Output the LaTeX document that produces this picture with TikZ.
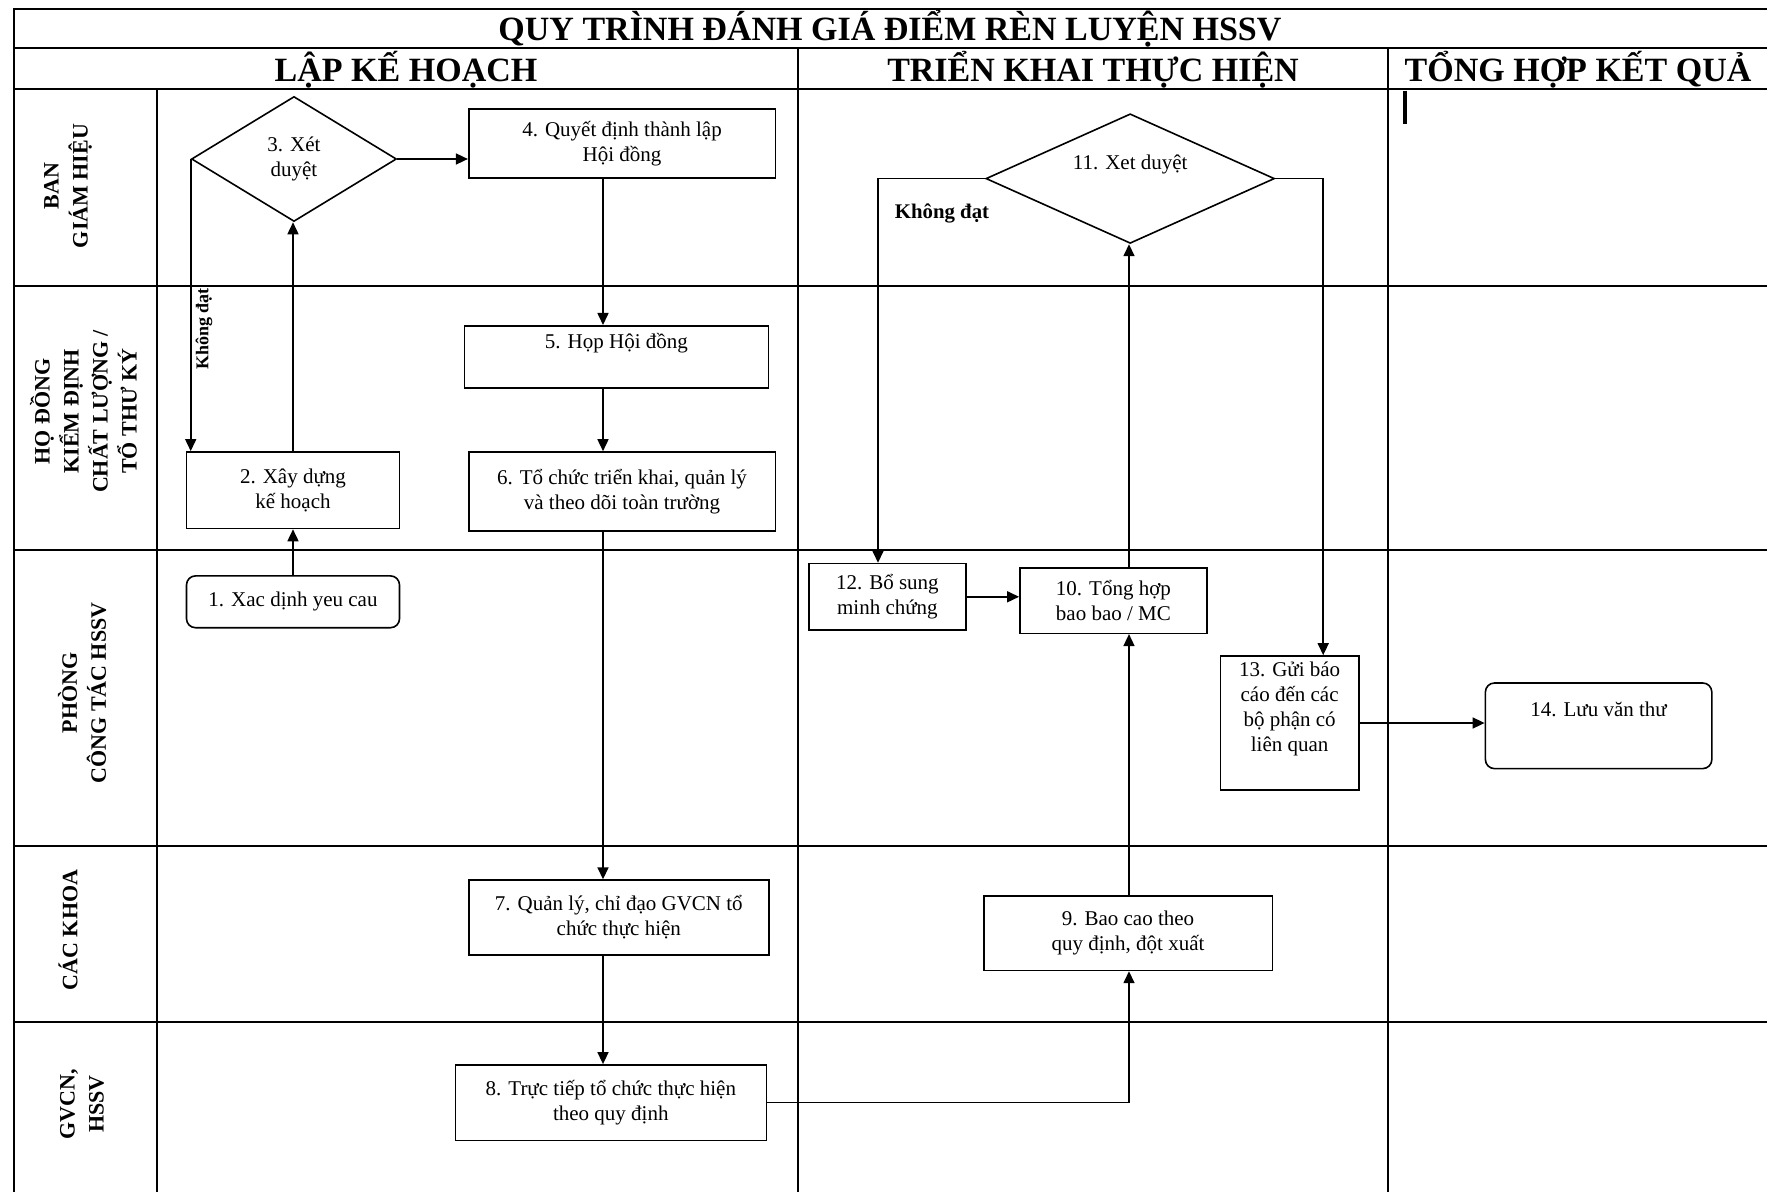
\documentclass[tikz,border=0pt]{standalone}
\usepackage{fontspec}
\setmainfont{Liberation Serif}
\usetikzlibrary{shapes.geometric,arrows.meta}

\tikzset{
  grid/.style={line width=1pt},
  box/.style={draw, line width=0.8pt, align=center, inner sep=1pt, font=\fontsize{10.5}{12.4}\selectfont},
  rbox/.style={box, rounded corners=4.5pt},
  dec/.style={box, diamond, inner sep=0pt},
  lane/.style={rotate=90, align=center, font=\bfseries\fontsize{11}{14.5}\selectfont},
  phase/.style={font=\bfseries\fontsize{17}{20}\selectfont},
  arr/.style={line width=0.8pt, -{Triangle[length=6pt,width=5.5pt]}},
}

\begin{document}
\begin{tikzpicture}[x=1pt, y=-1pt]
    \useasboundingbox (0,0) rectangle (883.5,596);
    \draw[grid] (6.75,596) -- (6.75,4.5) -- (883.5,4.5);
    \draw[grid] (6.75,24.25) -- (883.5,24.25);
    \draw[grid] (6.75,44.5) -- (883.5,44.5);
    \draw[grid] (6.75,143) -- (883.5,143);
    \draw[grid] (6.75,275) -- (883.5,275);
    \draw[grid] (6.75,423) -- (883.5,423);
    \draw[grid] (6.75,511) -- (883.5,511);
    \draw[grid] (78.3,44.5) -- (78.3,596);
    \draw[grid] (399,24.25) -- (399,596);
    \draw[grid] (694,24.25) -- (694,596);
    \draw[line width=1.8pt] (702.5,45.5) -- (702.5,62);

    \node[phase] (title) at (445,14.6) {QUY TRÌNH ĐÁNH GIÁ ĐIỂM RÈN LUYỆN HSSV};
    \node[phase] (ph1) at (203,35) {LẬP KẾ HOẠCH};
    \node[phase] (ph2) at (546.5,35) {TRIỂN KHAI THỰC HIỆN};
    \node[phase] (ph3) at (789,35) {TỔNG HỢP KẾT QUẢ};

    \node[lane] (l1) at (34,93) {BAN\\GIÁM HIỆU};
    \node[lane] (l2) at (41.7,205.7) {HỌ ĐỒNG\\KIỂM ĐỊNH\\CHẤT LƯỢNG /\\TỔ THƯ KÝ};
    \node[lane] (l3) at (41,346.5) {PHÒNG\\CÔNG TÁC HSSV};
    \node[lane] (l4) at (34,465) {CÁC KHOA};
    \node[lane] (l5) at (41,552) {GVCN,\\HSSV};

    \node[rbox, minimum width=106.5pt, minimum height=25.9pt] (b1) at (146.5,300.9) {1. Xac dịnh yeu cau};
    \node[box, minimum width=106.5pt, minimum height=38.3pt] (b2) at (146.5,245.1) {2. Xây dựng\\kế hoạch};
    \node[dec, aspect=1.6, minimum width=102.5pt, minimum height=62.5pt] (d3) at (147,79.5) {3. Xét\\duyệt};
    \node[box, minimum width=153.3pt, minimum height=34.3pt] (b4) at (311,71.8) {4. Quyết định thành lập\\Hội đồng};
    \node[box, minimum width=152pt, minimum height=31pt] (b5) at (308.2,178.4) {5. Họp Hội đồng\\\strut};
    \node[box, minimum width=153.3pt, minimum height=39.4pt] (b6) at (311,245.7) {6. Tổ chức triển khai, quản lý\\và theo dõi toàn trường};
    \node[box, minimum width=149.9pt, minimum height=37.3pt] (b7) at (309.4,458.7) {7. Quản lý, chỉ đạo GVCN tổ\\chức thực hiện};
    \node[box, minimum width=155.5pt, minimum height=37.7pt] (b8) at (305.4,551.3) {8. Trực tiếp tổ chức thực hiện\\theo quy định};
    \node[box, minimum width=144.3pt, minimum height=37.2pt] (b9) at (564,466.6) {9. Bao cao theo\\quy định, đột xuất};
    \node[box, minimum width=93.5pt, minimum height=32.7pt] (b10) at (556.7,300.3) {10. Tổng hợp\\bao bao / MC};
    \node[dec, aspect=2.2, minimum width=144.3pt, minimum height=64.8pt] (d11) at (565.1,89.3) {11. Xet duyệt\\\strut};
    \node[box, minimum width=78.3pt, minimum height=33.2pt] (b12) at (443.7,298.4) {12. Bổ sung\\minh chứng};
    \node[box, minimum width=69.3pt, minimum height=67pt] (b13) at (644.8,361.5) {13. Gửi báo\\cáo đến các\\bộ phận có\\liên quan\\\strut};
    \node[rbox, minimum width=113.2pt, minimum height=42.8pt] (b14) at (799.3,362.9) {14. Lưu văn thư\\\strut};

    \node[rotate=90, font=\bfseries\fontsize{9}{10}\selectfont] (kd1) at (102,164.5) {Không đạt};
    \node[font=\bfseries\fontsize{10.4}{12}\selectfont] (kd2) at (471,106.5) {Không đạt};

    \coordinate (spine) at (301.5,0);
    \coordinate (spine2) at (564.5,0);
    \coordinate (kdx) at (439,0);

    \draw[arr] (b1.north) -- (b2.south);
    \draw[arr] (b2.north) -- (b2.north |- d3.south);
    \draw[arr] (d3.west) -- (d3.west |- b2.north);
    \draw[arr] (d3.east) -- (d3.east -| b4.west);
    \draw[arr] (b4.south -| spine) -- (b5.north -| spine);
    \draw[arr] (b5.south -| spine) -- (b6.north -| spine);
    \draw[arr] (b6.south -| spine) -- (b7.north -| spine);
    \draw[arr] (b7.south -| spine) -- (b8.north -| spine);
    \draw[arr] (b8.east) -| (b9.south -| spine2);
    \draw[arr] (b9.north -| spine2) -- (b10.south -| spine2);
    \draw[arr] (b10.north -| spine2) -- (d11.south -| spine2);
    \draw[arr] (b12.east) -- (b12.east -| b10.west);
    \draw[arr] (d11.west) -| (b12.north -| kdx);
    \draw[arr] (d11.east) -| ([xshift=16.8pt]b13.north);
    \draw[arr] (b13.east) -- (b13.east -| b14.west);
\end{tikzpicture}
\end{document}
